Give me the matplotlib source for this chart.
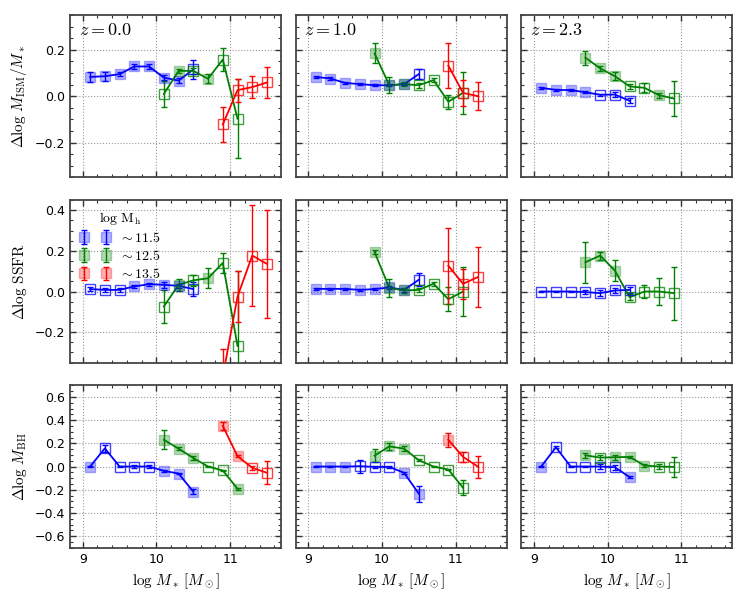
import numpy as np
import matplotlib.pyplot as plt
from matplotlib.ticker import MultipleLocator
from matplotlib.colors import to_rgba

plt.rcParams['mathtext.fontset'] = 'cm'
plt.rcParams['font.size'] = 9

# each series: (log M*, delta, error, marker kind: f = filled/faint, o = open)
# --- Delta log M_ISM / M*
ism_z0_lo = ([9.1, 9.3, 9.5, 9.7, 9.9, 10.1, 10.3, 10.5],
             [0.083, 0.086, 0.095, 0.128, 0.128, 0.080, 0.067, 0.115],
             [0.02, 0.02, 0.01, 0.01, 0.01, 0.012, 0.012, 0.043], 'fffffffo')
ism_z0_mid = ([10.1, 10.3, 10.5, 10.7, 10.9, 11.1],
              [0.009, 0.109, 0.109, 0.075, 0.158, -0.097],
              [0.057, 0.01, 0.012, 0.02, 0.048, 0.17], 'ofofoo')
ism_z0_hi = ([10.9, 11.1, 11.3, 11.5],
             [-0.122, 0.026, 0.039, 0.059],
             [0.074, 0.05, 0.049, 0.066], 'oooo')

ism_z1_lo = ([9.1, 9.3, 9.5, 9.7, 9.9, 10.1, 10.3, 10.5],
             [0.083, 0.076, 0.057, 0.052, 0.047, 0.047, 0.052, 0.095],
             [0.006, 0.006, 0.005, 0.005, 0.005, 0.005, 0.006, 0.02], 'fffffffo')
ism_z1_mid = ([9.9, 10.1, 10.3, 10.5, 10.7, 10.9, 11.1],
              [0.184, 0.047, 0.052, 0.047, 0.069, -0.024, 0.014],
              [0.043, 0.034, 0.01, 0.01, 0.01, 0.03, 0.09], 'fffoooo')
ism_z1_hi = ([10.9, 11.1, 11.3],
             [0.132, 0.014, 0.0],
             [0.095, 0.057, 0.06], 'ooo')

ism_z2_lo = ([9.1, 9.3, 9.5, 9.7, 9.9, 10.1, 10.3],
             [0.036, 0.027, 0.026, 0.017, 0.006, 0.007, -0.020],
             [0.004, 0.004, 0.004, 0.004, 0.005, 0.01, 0.01], 'ffffooo')
ism_z2_mid = ([9.7, 9.9, 10.1, 10.3, 10.5, 10.7, 10.9],
              [0.166, 0.120, 0.086, 0.042, 0.036, 0.004, -0.010],
              [0.03, 0.01, 0.018, 0.01, 0.02, 0.01, 0.074], 'fffoofo')

# --- Delta log SSFR
ssfr_z0_lo = ([9.1, 9.3, 9.5, 9.7, 9.9, 10.1, 10.3, 10.5],
              [0.012, 0.008, 0.008, 0.025, 0.036, 0.033, 0.028, 0.012],
              [0.008, 0.008, 0.008, 0.008, 0.008, 0.015, 0.01, 0.033], 'oooffffo')
ssfr_z0_mid = ([10.1, 10.3, 10.5, 10.7, 10.9, 11.1],
               [-0.074, 0.033, 0.055, 0.065, 0.141, -0.268],
               [0.083, 0.03, 0.028, 0.05, 0.05, 0.367], 'ofofoo')
ssfr_z0_hi = ([10.9, 11.1, 11.3, 11.5],
              [-0.42, -0.025, 0.177, 0.136],
              [0.135, 0.124, 0.25, 0.266], 'oooo')

ssfr_z1_lo = ([9.1, 9.3, 9.5, 9.7, 9.9, 10.1, 10.3, 10.5],
              [0.013, 0.013, 0.013, 0.008, 0.012, 0.020, 0.008, 0.058],
              [0.005, 0.005, 0.005, 0.005, 0.005, 0.008, 0.008, 0.033], 'fffffffo')
ssfr_z1_mid = ([9.9, 10.1, 10.3, 10.5, 10.7, 10.9, 11.1],
               [0.194, 0.017, 0.005, 0.008, 0.038, -0.038, 0.0],
               [0.01, 0.044, 0.01, 0.01, 0.01, 0.06, 0.12], 'fffoooo')
ssfr_z1_hi = ([10.9, 11.1, 11.3],
              [0.127, 0.038, 0.071],
              [0.187, 0.074, 0.146], 'ooo')

ssfr_z2_lo = ([9.1, 9.3, 9.5, 9.7, 9.9, 10.1, 10.3],
              [0.0, 0.0, 0.0, -0.003, -0.008, 0.005, 0.008],
              [0.004, 0.004, 0.004, 0.008, 0.015, 0.012, 0.015], 'ooooooo')
ssfr_z2_mid = ([9.7, 9.9, 10.1, 10.3, 10.5, 10.7, 10.9],
               [0.144, 0.177, 0.103, -0.028, 0.0, 0.0, -0.008],
               [0.1, 0.02, 0.05, 0.015, 0.03, 0.066, 0.13], 'fffoooo')

# --- Delta log M_BH
bh_z0_lo = ([9.1, 9.3, 9.5, 9.7, 9.9, 10.1, 10.3, 10.5],
            [0.0, 0.157, 0.0, 0.0, 0.0, -0.037, -0.06, -0.217],
            [0.005, 0.03, 0.008, 0.01, 0.01, 0.008, 0.008, 0.02], 'foooofff')
bh_z0_mid = ([10.1, 10.3, 10.5, 10.7, 10.9, 11.1],
             [0.231, 0.154, 0.074, 0.0, -0.034, -0.191],
             [0.083, 0.015, 0.02, 0.008, 0.008, 0.01], 'fffoof')
bh_z0_hi = ([10.9, 11.1, 11.3, 11.5],
            [0.351, 0.089, -0.011, -0.054],
            [0.035, 0.008, 0.02, 0.1], 'ffoo')

bh_z1_lo = ([9.1, 9.3, 9.5, 9.7, 9.9, 10.1, 10.3, 10.5],
            [0.0, 0.0, 0.0, 0.003, -0.003, -0.003, -0.054, -0.234],
            [0.005, 0.005, 0.005, 0.057, 0.008, 0.01, 0.008, 0.07], 'fffoooff')
bh_z1_mid = ([9.9, 10.1, 10.3, 10.5, 10.7, 10.9, 11.1],
             [0.094, 0.174, 0.154, 0.054, 0.0, -0.026, -0.183],
             [0.057, 0.03, 0.02, 0.01, 0.008, 0.008, 0.063], 'fffoooo')
bh_z1_hi = ([10.9, 11.1, 11.3],
            [0.231, 0.083, 0.0],
            [0.06, 0.04, 0.095], 'foo')

bh_z2_lo = ([9.1, 9.3, 9.5, 9.7, 9.9, 10.1, 10.3],
            [0.0, 0.166, 0.0, 0.0, 0.0, -0.006, -0.091],
            [0.004, 0.01, 0.005, 0.005, 0.02, 0.02, 0.006], 'fooooof')
bh_z2_mid = ([9.7, 9.9, 10.1, 10.3, 10.5, 10.7, 10.9],
             [0.097, 0.077, 0.08, 0.083, 0.009, 0.0, -0.003],
             [0.02, 0.02, 0.02, 0.01, 0.01, 0.02, 0.086], 'fofffoo')

redshifts = ['0.0', '1.0', '2.3']
halo_labels = ['11.5', '12.5', '13.5']
colors = ['blue', 'green', 'red']
ylabels = [r'$\Delta\log\,M_{\rm ISM}/M_*$', r'$\Delta\log\,{\rm SSFR}$', r'$\Delta\log\,M_{\rm BH}$']
ylims = [(-0.35, 0.35), (-0.35, 0.45), (-0.7, 0.7)]

rows = [
    [[ism_z0_lo, ism_z0_mid, ism_z0_hi], [ism_z1_lo, ism_z1_mid, ism_z1_hi], [ism_z2_lo, ism_z2_mid]],
    [[ssfr_z0_lo, ssfr_z0_mid, ssfr_z0_hi], [ssfr_z1_lo, ssfr_z1_mid, ssfr_z1_hi], [ssfr_z2_lo, ssfr_z2_mid]],
    [[bh_z0_lo, bh_z0_mid, bh_z0_hi], [bh_z1_lo, bh_z1_mid, bh_z1_hi], [bh_z2_lo, bh_z2_mid]],
]


def draw_series(ax, series, c):
    x, y, e, kind = series
    x, y, e = np.array(x), np.array(y), np.array(e)
    filled = np.array([k == 'f' for k in kind[:len(x)]])
    ax.plot(x, y, '-', color=c, lw=1.3, zorder=3)
    ax.errorbar(x, y, yerr=e, fmt='none', ecolor=c, elinewidth=1.0,
                capsize=2, capthick=1.0, zorder=4)
    ax.plot(x[filled], y[filled], 's', ms=7, ls='none',
            mfc=to_rgba(c, 0.3), mec=to_rgba(c, 0.3), zorder=5)
    ax.plot(x[~filled], y[~filled], 's', ms=7, ls='none',
            mfc='none', mec=to_rgba(c, 0.75), mew=1.0, zorder=5)


fig, axes = plt.subplots(3, 3, figsize=(7.47, 5.98), dpi=100, sharex='all', sharey='row')
fig.subplots_adjust(left=0.094, right=0.98, top=0.975, bottom=0.084, wspace=0.07, hspace=0.14)

for i in range(3):
    for j in range(3):
        ax = axes[i, j]
        for k, series in enumerate(rows[i][j]):
            draw_series(ax, series, colors[k])
        ax.set_xlim(8.83, 11.69)
        ax.set_ylim(*ylims[i])
        ax.xaxis.set_major_locator(MultipleLocator(1))
        ax.xaxis.set_minor_locator(MultipleLocator(0.2))
        ax.yaxis.set_major_locator(MultipleLocator(0.2))
        ax.yaxis.set_minor_locator(MultipleLocator(0.05))
        ax.grid(True, which='major', ls=':', color='0.6', lw=0.8)
        ax.tick_params(which='both', direction='in', top=True, right=True, color='#333333')
        ax.tick_params(which='major', length=4.5, width=1.0)
        ax.tick_params(which='minor', length=2.5, width=0.8)
        for s in ax.spines.values():
            s.set_color('#444444')
            s.set_linewidth(1.3)
        if i == 0:
            ax.text(0.04, 0.96, r'$z = %s$' % redshifts[j], transform=ax.transAxes,
                    ha='left', va='top', fontsize=13)
        if j == 0:
            ax.set_ylabel(ylabels[i], fontsize=11)
        if i == 2:
            ax.set_xlabel(r'$\log\,M_*\,[M_\odot]$', fontsize=11)

# legend in the SSFR z=0 panel
handles = []
for k in range(3):
    h = axes[1, 0].errorbar([np.nan], [np.nan], yerr=[0.05], fmt='s', ms=7,
                            mfc=to_rgba(colors[k], 0.3), mec=to_rgba(colors[k], 0.3),
                            ecolor=colors[k], elinewidth=1.0, capsize=2,
                            label=r'$\sim %s$' % halo_labels[k])
    handles.append(h)
axes[1, 0].legend(handles=handles, loc='upper left', frameon=False, numpoints=2,
                  title=r'$\log\,{\rm M_h}$', title_fontsize=10, fontsize=10,
                  handlelength=2.2, handletextpad=0.6, labelspacing=0.3,
                  borderaxespad=0.3)

fig.savefig('out.png', dpi=100)
